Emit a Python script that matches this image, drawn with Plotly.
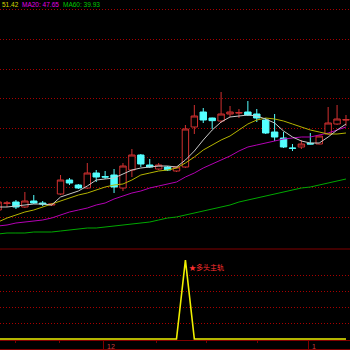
import plotly.graph_objects as go

# ---------------- data ----------------
idx = list(range(40))

opens  = [35.5, 36.50, 36.7, 35.95, 36.85, 36.55, 36.25, 37.9, 40.0, 39.25,
          38.8, 41.05, 40.5, 40.75, 38.8, 41.5, 43.75, 42.25, 41.65, 41.95,
          41.35, 41.95, 47.95, 50.2, 49.3, 48.85, 49.9, 50.05, 50.2, 49.9,
          49.0, 47.2, 46.3, 44.8, 44.95, 45.5, 45.4, 46.9, 48.4, 49.0]
highs  = [37.0, 36.85, 37.0, 38.2, 37.75, 36.85, 36.55, 40.75, 40.3, 39.4,
          42.55, 41.5, 41.35, 41.65, 42.55, 44.65, 43.9, 43.15, 42.55, 42.1,
          42.1, 48.25, 51.25, 50.8, 49.35, 53.2, 51.1, 50.65, 51.85, 50.65,
          49.3, 49.9, 47.2, 45.4, 46.0, 47.05, 46.65, 50.95, 51.25, 49.75]
lows   = [35.2, 35.95, 35.65, 35.8, 36.4, 36.1, 36.1, 37.75, 39.25, 38.65,
          38.65, 39.7, 40.15, 38.05, 38.35, 40.45, 41.95, 41.8, 41.5, 41.35,
          41.2, 41.8, 46.9, 48.55, 47.65, 48.55, 49.45, 49.3, 49.6, 48.7,
          46.9, 45.85, 44.8, 44.35, 44.65, 45.35, 45.35, 46.85, 48.25, 48.1]
closes = [36.7, 36.55, 35.95, 36.85, 36.55, 36.4, 36.4, 40.0, 39.55, 38.8,
          41.05, 40.45, 40.45, 38.95, 42.1, 43.75, 42.4, 41.95, 42.25, 41.5,
          41.95, 47.65, 49.6, 49.0, 48.9, 49.9, 50.2, 50.1, 49.75, 49.3,
          47.05, 46.45, 44.95, 44.75, 45.4, 45.4, 46.6, 48.55, 49.15, 49.05]

ma5  = [35.95, 35.95, 36.1, 36.25, 36.4, 36.4, 36.25, 37.45, 37.9, 38.35,
        39.1, 40.0, 40.15, 40.3, 40.9, 41.5, 41.8, 41.95, 42.1, 42.1,
        41.95, 43.0, 44.35, 46.0, 47.5, 48.7, 49.45, 49.6, 49.75, 49.6,
        49.15, 48.55, 47.35, 46.45, 45.85, 45.55, 45.55, 46.45, 47.5, 48.4]
ma10 = [33.7, 34.3, 34.75, 35.2, 35.5, 35.95, 36.4, 36.85, 37.3, 37.75,
        38.05, 38.5, 38.95, 39.25, 39.4, 40.0, 40.75, 41.05, 41.35, 41.5,
        41.8, 42.55, 43.45, 44.5, 45.25, 46.0, 46.6, 47.5, 48.4, 49.0,
        49.3, 49.15, 48.85, 48.4, 47.95, 47.5, 47.2, 46.9, 46.9, 47.05]
ma20 = [33.1, 33.25, 33.55, 33.7, 33.85, 34.0, 34.3, 34.75, 35.2, 35.5,
        35.8, 36.25, 36.55, 37.15, 37.6, 38.05, 38.35, 38.8, 39.1, 39.4,
        39.7, 40.45, 41.05, 41.8, 42.4, 43.0, 43.6, 44.35, 44.95, 45.25,
        45.55, 45.85, 46.15, 46.3, 46.45, 46.45, 46.75, 47.05, 47.5, 47.95]
ma60 = [31.9, 32.05, 32.05, 32.05, 32.2, 32.2, 32.2, 32.35, 32.5, 32.65,
        32.8, 32.8, 32.95, 33.1, 33.25, 33.4, 33.55, 33.7, 34.0, 34.3,
        34.45, 34.75, 35.05, 35.35, 35.65, 35.95, 36.25, 36.7, 37.0, 37.3,
        37.6, 37.9, 38.2, 38.5, 38.8, 38.95, 39.25, 39.55, 39.85, 40.15]

signal = [0] * 21 + [1] + [0] * 18

price_grid = [34.45, 38.89, 43.33, 47.77, 52.21, 56.65, 61.09, 65.53]
signal_grid = [0.2, 0.4, 0.6, 0.8]
header_texts = ["51.42", "MA20: 47.65", "MA60: 39.93"]
signal_label = "★多头主轨"
month_ticks = [11.85, 34.85]
month_labels = ["12", "1"]
week_ticks = [2.0, 6.9, 17.8, 23.4, 29.1]

# ---------------- figure ----------------
RED = "#d03030"
CYAN = "#54ffff"
GRID = "#a80000"
DARK = "#800000"

fig = go.Figure()

fig.add_trace(go.Candlestick(
    x=idx, open=opens, high=highs, low=lows, close=closes,
    increasing=dict(line=dict(color=RED, width=1), fillcolor="#000000"),
    decreasing=dict(line=dict(color=CYAN, width=1), fillcolor=CYAN),
    whiskerwidth=0, xaxis="x", yaxis="y", hoverinfo="skip",
))

for vals, col in [(ma60, "#00a800"), (ma20, "#b400b4"), (ma10, "#b4b400"), (ma5, "#c8c8c8")]:
    fig.add_trace(go.Scatter(x=idx, y=vals, mode="lines",
                             line=dict(color=col, width=1),
                             xaxis="x", yaxis="y", hoverinfo="skip"))

fig.add_trace(go.Scatter(x=idx, y=signal, mode="lines",
                         line=dict(color="#f0f000", width=1.6),
                         xaxis="x", yaxis="y2", hoverinfo="skip"))

H = 350.0
main_bottom = 1 - 249 / H
sub_bottom = 1 - 340 / H

fig.update_layout(
    width=350, height=350, autosize=False,
    margin=dict(l=0, r=0, t=0, b=0),
    paper_bgcolor="#000000", plot_bgcolor="#000000",
    showlegend=False, hovermode=False,
    boxgap=0.1, boxgroupgap=0.2,
    xaxis=dict(range=[0.213, 39.45], anchor="y2", domain=[0, 1],
               showgrid=False, zeroline=False,
               showline=True, linecolor=DARK, linewidth=1,
               rangeslider=dict(visible=False),
               tickmode="array", tickvals=month_ticks, ticktext=["", ""],
               ticks="outside", ticklen=9, tickcolor=DARK, tickwidth=1,
               showticklabels=False,
               minor=dict(tickmode="array", tickvals=week_ticks, ticks="outside",
                          ticklen=2, tickcolor=DARK, tickwidth=1, showgrid=False)),
    yaxis=dict(domain=[main_bottom, 1], range=[29.65, 67.0],
               showgrid=True, gridcolor=GRID, griddash="1px,2px", gridwidth=1,
               tickmode="array", tickvals=price_grid,
               showticklabels=False, ticks="", zeroline=False, showline=False),
    yaxis2=dict(domain=[sub_bottom, main_bottom], range=[-0.01266, 1.1392],
                showgrid=True, gridcolor=GRID, griddash="1px,2px", gridwidth=1,
                tickmode="array", tickvals=signal_grid,
                showticklabels=False, ticks="", zeroline=False, showline=False),
    shapes=[
        dict(type="line", xref="paper", yref="paper", x0=0, x1=1,
             y0=main_bottom, y1=main_bottom, line=dict(color=DARK, width=1)),
        dict(type="line", xref="paper", yref="paper", x0=0, x1=1,
             y0=0.5 / H, y1=0.5 / H, line=dict(color=DARK, width=1)),
    ],
)

hdr_font = "Liberation Sans, Arial, sans-serif"
for txt, xpos, col in zip(header_texts, [0, 20, 61], ["#d8d800", "#e000e0", "#00c800"]):
    fig.add_annotation(text=txt, xref="paper", yref="paper", x=xpos / H, y=1 - 4.5 / H,
                       xanchor="left", yanchor="middle", showarrow=False,
                       font=dict(size=6.5, color=col, family=hdr_font))

fig.add_annotation(text=signal_label, x=21, y=1, xref="x", yref="y2",
                   xanchor="left", yanchor="middle", xshift=2, yshift=-7,
                   showarrow=False,
                   font=dict(size=7, color="#ff3030", family="Noto Sans CJK SC"))

for tv, tl in zip(month_ticks, month_labels):
    fig.add_annotation(text=tl, x=tv, y=sub_bottom, xref="x", yref="paper",
                       xanchor="left", yanchor="top", xshift=1, yshift=-1,
                       showarrow=False,
                       font=dict(size=7, color="#c83c3c", family=hdr_font))

fig.write_html("out.html", config=dict(displayModeBar=False))
